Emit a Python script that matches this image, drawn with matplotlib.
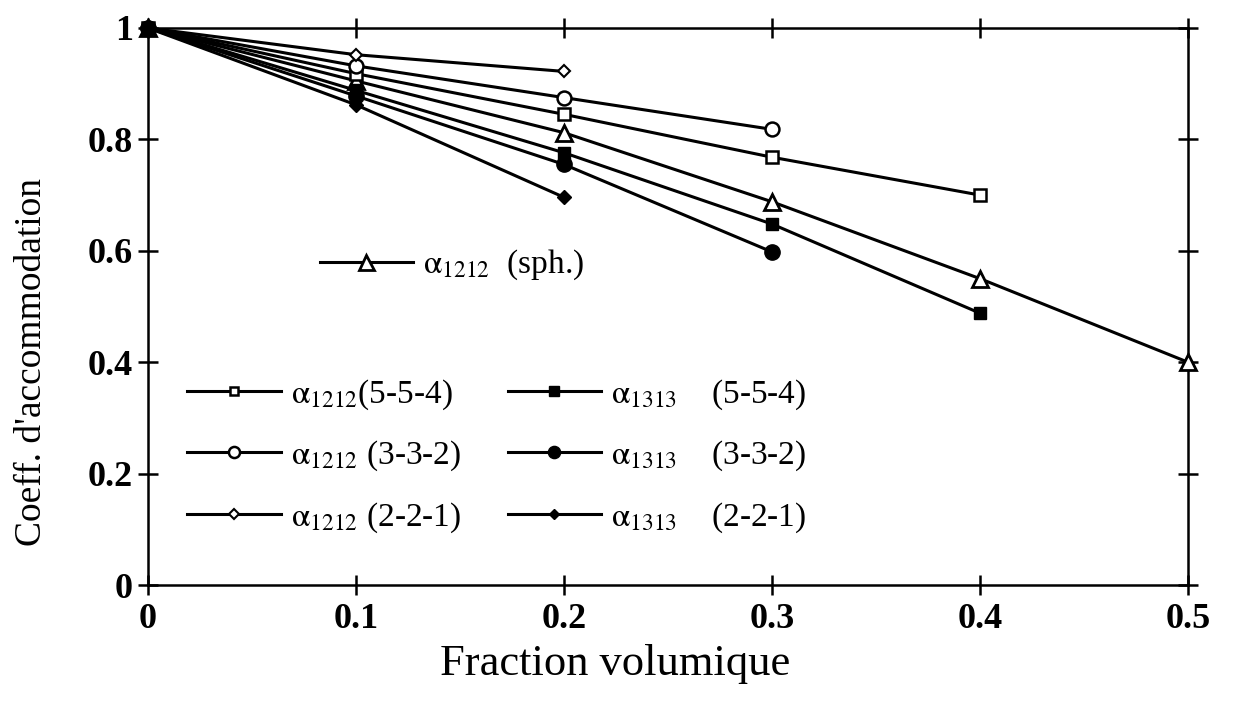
import matplotlib
matplotlib.use("Agg")
import matplotlib.pyplot as plt

plt.rcParams['font.family'] = ['Liberation Serif', 'DejaVu Serif']
plt.rcParams['mathtext.fontset'] = 'stix'

# data
x_sph = [0, 0.1, 0.2, 0.3, 0.4, 0.5]
y_sph = [1, 0.905, 0.812, 0.688, 0.550, 0.400]
x_554 = [0, 0.1, 0.2, 0.3, 0.4]
y1212_554 = [1, 0.918, 0.845, 0.768, 0.700]
y1313_554 = [1, 0.888, 0.776, 0.648, 0.488]
x_332 = [0, 0.1, 0.2, 0.3]
y1212_332 = [1, 0.932, 0.875, 0.818]
y1313_332 = [1, 0.878, 0.755, 0.598]
x_221 = [0, 0.1, 0.2]
y1212_221 = [1, 0.952, 0.922]
y1313_221 = [1, 0.862, 0.696]

xticks = [0, 0.1, 0.2, 0.3, 0.4, 0.5]
xticklabels = ['0', '0.1', '0.2', '0.3', '0.4', '0.5']
yticks = [0, 0.2, 0.4, 0.6, 0.8, 1.0]
yticklabels = ['0', '0.2', '0.4', '0.6', '0.8', '1']

fig = plt.figure(figsize=(12.33, 7.08), dpi=100)
ax = fig.add_axes([0.12, 0.1737, 0.8435, 0.7868])

lw = 2.2
common = dict(color='black', lw=lw, clip_on=False, zorder=3)

h_sph, = ax.plot(x_sph, y_sph, marker='^', ms=12, mfc='white', mec='black', mew=2, **common)
h1, = ax.plot(x_554, y1212_554, marker='s', ms=8, mfc='white', mec='black', mew=1.8, **common)
h2, = ax.plot(x_332, y1212_332, marker='o', ms=10, mfc='white', mec='black', mew=1.8, **common)
h3, = ax.plot(x_221, y1212_221, marker='D', ms=6, mfc='white', mec='black', mew=1.5, **common)
h4, = ax.plot(x_554, y1313_554, marker='s', ms=9, mfc='black', mec='black', **common)
h5, = ax.plot(x_332, y1313_332, marker='o', ms=11, mfc='black', mec='black', **common)
h6, = ax.plot(x_221, y1313_221, marker='D', ms=7, mfc='black', mec='black', **common)

ax.set_xlim(0, 0.5)
ax.set_ylim(0, 1)
ax.set_xticks(xticks)
ax.set_xticklabels(xticklabels)
ax.set_yticks(yticks)
ax.set_yticklabels(yticklabels)
ax.tick_params(direction='inout', length=14, width=1.8, top=True, right=True,
               labelsize=26)
ax.tick_params(axis='x', pad=6)
ax.tick_params(axis='y', pad=4)
for lab in ax.get_xticklabels() + ax.get_yticklabels():
    lab.set_fontweight('bold')
for sp in ax.spines.values():
    sp.set_linewidth(1.8)

ax.set_xlabel('Fraction volumique', fontsize=32)
ax.xaxis.set_label_coords(0.449, -0.105)
ax.set_ylabel("Coeff. d'accommodation", fontsize=27)
ax.yaxis.set_label_coords(-0.095, 0.40)

a = r'$\mathrm{\alpha}$'
leg1 = ax.legend([h_sph], [a + r'$_{1212}$  (sph.)'], loc='upper left',
                 bbox_to_anchor=(0.165, 0.605), frameon=False, fontsize=24,
                 handlelength=2.8, handletextpad=0.3, markerscale=0.9,
                 borderaxespad=0, borderpad=0)
ax.add_artist(leg1)
labels = [a + r'$_{1212}$(5-5-4)', a + r'$_{1212}$ (3-3-2)', a + r'$_{1212}$ (2-2-1)',
          a + r'$_{1313}$    (5-5-4)', a + r'$_{1313}$    (3-3-2)', a + r'$_{1313}$    (2-2-1)']
ax.legend([h1, h2, h3, h4, h5, h6], labels, ncol=2, loc='upper left',
          bbox_to_anchor=(0.038, 0.372), frameon=False, fontsize=24,
          handlelength=2.8, handletextpad=0.3, columnspacing=1.4,
          labelspacing=0.8, markerscale=0.8, borderaxespad=0, borderpad=0)

fig.savefig('out.png', dpi=100)
